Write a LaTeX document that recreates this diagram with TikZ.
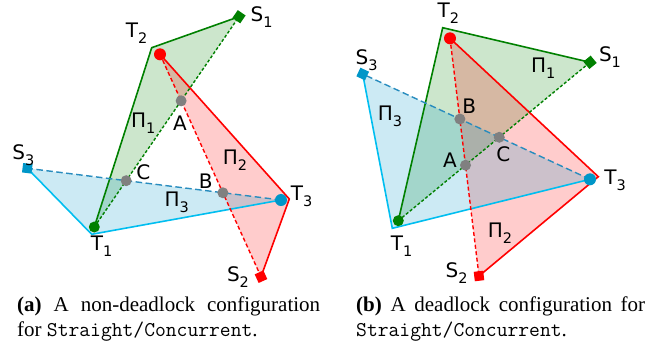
\documentclass[tikz,border=0pt]{standalone}
\usepackage{fontspec}
\setmainfont{Liberation Serif}
\newfontfamily\labfont{DejaVu Sans}
\definecolor{gline}{RGB}{0,128,0}
\definecolor{rline}{RGB}{255,0,0}
\definecolor{cline}{RGB}{0,190,240}
\definecolor{cdash}{RGB}{40,140,190}
\definecolor{cdot}{RGB}{0,150,200}
\definecolor{gdotc}{RGB}{128,128,128}
\newcommand\sbs[2]{#1\raisebox{-0.3em}{\fontsize{14.5}{14.5}\selectfont #2}}
\begin{document}
\begin{tikzpicture}[x=1pt,y=-1pt,
  lab/.style={font=\labfont\fontsize{20}{20}\selectfont, inner sep=0pt},
  captext/.style={font=\fontsize{21}{25}\selectfont, inner sep=0pt, anchor=base west},
  gfillst/.style={fill=gline, fill opacity=0.2},
  rfillst/.style={fill=rline, fill opacity=0.2},
  cfillst/.style={fill=cdot, fill opacity=0.2},
  gsolid/.style={draw=gline, line width=1.6pt, line join=miter},
  rsolid/.style={draw=rline, line width=1.6pt, line join=miter},
  csolid/.style={draw=cline, line width=1.6pt, line join=miter},
  gdash/.style={draw=gline, line width=1.4pt, dash pattern=on 3pt off 2pt},
  rdash/.style={draw=rline, line width=1.4pt, dash pattern=on 4pt off 2.5pt},
  cdashst/.style={draw=cdash, line width=1.4pt, dash pattern=on 6.5pt off 3.5pt},
  dotst/.style={circle, inner sep=0pt, minimum size=#1},
  gdt/.style={dotst=11pt, fill=gline},
  rdt/.style={dotst=12pt, fill=rline},
  cdt/.style={dotst=12pt, fill=cdot},
  xdt/.style={dotst=11pt, fill=gdotc},
  sqst/.style={rectangle, inner sep=0pt, minimum size=9.5pt, sloped, pos=1},
]
\useasboundingbox (0,0) rectangle (651,349);

% ---------- left panel ----------
\coordinate (T2ca) at (151.7,47.7);
\coordinate (T2da) at (160,54.3);
\coordinate (S1a) at (239,16.7);
\coordinate (T1da) at (94.3,227);
\coordinate (T1ca) at (91.7,234.3);
\coordinate (S3a) at (27.3,168.3);
\coordinate (T3da) at (281,200);
\coordinate (T3ca) at (289.3,199);
\coordinate (S2a) at (261,276.7);

\fill[gfillst] (T1da) -- (T2ca) -- (S1a) -- cycle;
\fill[rfillst] (T2da) -- (T3ca) -- (S2a) -- cycle;
\fill[cfillst] (T3da) -- (S3a) -- (T1ca) -- cycle;
\draw[gsolid] (T1da) -- (T2ca) -- (S1a);
\draw[rsolid] (T2da) -- (T3ca) -- (S2a);
\draw[csolid] (S3a) -- (T1ca) -- (T3da);
\draw[gdash] (T1da) -- (S1a) node[sqst, fill=gline] (qS1a) {};
\draw[rdash] (T2da) -- (S2a) node[sqst, fill=rline] (qS2a) {};
\draw[cdashst] (T3da) -- (S3a) node[sqst, fill=cdot] (qS3a) {};
\coordinate (Aa) at (intersection of T1da--S1a and T2da--S2a);
\coordinate (Ba) at (intersection of T2da--S2a and T3da--S3a);
\coordinate (Ca) at (intersection of T1da--S1a and T3da--S3a);
\node[gdt] (dT1a) at (T1da) {};
\node[rdt] (dT2a) at (T2da) {};
\node[cdt] (dT3a) at (T3da) {};
\node[xdt] (dAa) at (Aa) {};
\node[xdt] (dBa) at (Ba) {};
\node[xdt] (dCa) at (Ca) {};

\node[lab] (lS1a) at (261.7,16.7) {\sbs{S}{1}};
\node[lab] (lT2a) at (136.7,33.3) {\sbs{T}{2}};
\node[lab] (lS3a) at (23.3,155) {\sbs{S}{3}};
\node[lab] (lT1a) at (101.7,246.7) {\sbs{T}{1}};
\node[lab] (lT3a) at (301.7,196.7) {\sbs{T}{3}};
\node[lab] (lS2a) at (238,276.7) {\sbs{S}{2}};
\node[lab] (lAa) at (180,123.3) {A};
\node[lab] (lBa) at (205.7,181.7) {B};
\node[lab] (lCa) at (143.3,172.7) {C};
\node[lab] (lP1a) at (143.3,123.3) {\sbs{Π}{1}};
\node[lab] (lP2a) at (235,160) {\sbs{Π}{2}};
\node[lab] (lP3a) at (176.7,202.7) {\sbs{Π}{3}};

% ---------- right panel ----------
\coordinate (T2cb) at (442.7,27.7);
\coordinate (T2db) at (450,38.3);
\coordinate (S1b) at (590,62.3);
\coordinate (S3b) at (362.7,74);
\coordinate (T1db) at (398.3,220.7);
\coordinate (T1cb) at (392.3,228.3);
\coordinate (T3db) at (590,179.3);
\coordinate (T3cb) at (598.3,176.7);
\coordinate (S2b) at (479,276);

\fill[gfillst] (T1db) -- (T2cb) -- (S1b) -- cycle;
\fill[rfillst] (T2db) -- (T3cb) -- (S2b) -- cycle;
\fill[cfillst] (T3db) -- (S3b) -- (T1cb) -- cycle;
\draw[gsolid] (T1db) -- (T2cb) -- (S1b);
\draw[rsolid] (T2db) -- (T3cb) -- (S2b);
\draw[csolid] (S3b) -- (T1cb) -- (T3db);
\draw[gdash] (T1db) -- (S1b) node[sqst, fill=gline] (qS1b) {};
\draw[rdash] (T2db) -- (S2b) node[sqst, fill=rline] (qS2b) {};
\draw[cdashst] (T3db) -- (S3b) node[sqst, fill=cdot] (qS3b) {};
\coordinate (Ab) at (intersection of T1db--S1b and T2db--S2b);
\coordinate (Bb) at (intersection of T2db--S2b and T3db--S3b);
\coordinate (Cb) at (intersection of T1db--S1b and T3db--S3b);
\node[gdt] (dT1b) at (T1db) {};
\node[rdt] (dT2b) at (T2db) {};
\node[cdt] (dT3b) at (T3db) {};
\node[xdt] (dAb) at (Ab) {};
\node[xdt] (dBb) at (Bb) {};
\node[xdt] (dCb) at (Cb) {};

\node[lab] (lT2b) at (448.3,13.3) {\sbs{T}{2}};
\node[lab] (lS1b) at (610,56.7) {\sbs{S}{1}};
\node[lab] (lS3b) at (366.7,60) {\sbs{S}{3}};
\node[lab] (lP1b) at (543.3,68.3) {\sbs{Π}{1}};
\node[lab] (lP3b) at (390,116.7) {\sbs{Π}{3}};
\node[lab] (lBb) at (469.3,106.7) {B};
\node[lab] (lCb) at (503.3,154) {C};
\node[lab] (lAb) at (450,160) {A};
\node[lab] (lT3b) at (615,180) {\sbs{T}{3}};
\node[lab] (lT1b) at (401.7,246.7) {\sbs{T}{1}};
\node[lab] (lP2b) at (500,233.3) {\sbs{Π}{2}};
\node[lab] (lS2b) at (456.7,273.3) {\sbs{S}{2}};

% ---------- captions ----------
\node[captext] (capa1) at (17,311) {\makebox[303pt][s]{\textbf{(a)} A non-deadlock configuration}};
\node[captext] (capa2) at (17,336) {for \texttt{Straight/Concurrent}.};
\node[captext] (capb1) at (356,311) {\makebox[289pt][s]{\textbf{(b)} A deadlock configuration for}};
\node[captext] (capb2) at (356,336) {\texttt{Straight/Concurrent}.};
\end{tikzpicture}
\end{document}
